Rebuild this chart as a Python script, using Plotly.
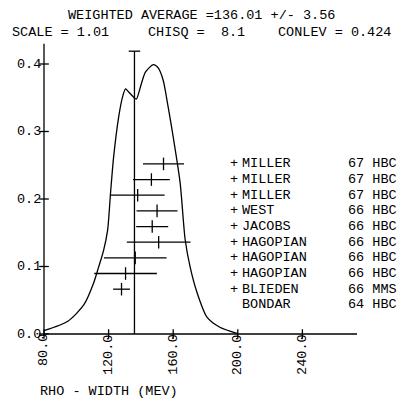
import plotly.graph_objects as go

# ---- data ----
authors = ["MILLER", "MILLER", "MILLER", "WEST", "JACOBS",
           "HAGOPIAN", "HAGOPIAN", "HAGOPIAN", "BLIEDEN", "BONDAR"]
years = ["67", "67", "67", "66", "66", "66", "66", "66", "66", "64"]
methods = ["HBC", "HBC", "HBC", "HBC", "HBC", "HBC", "HBC", "HBC", "MMS", "HBC"]
widths = [154.0, 146.5, 138.0, 150.0, 147.0, 151.0, 136.5, 130.5, 128.0]
errors = [12.7, 11.4, 16.7, 12.7, 9.9, 19.7, 19.4, 19.4, 5.2]

curve_x = [80.0, 94.8, 104.6, 110.8, 113.8, 116.9, 119.4, 121.2, 123.1, 126.2,
           128.6, 130.5, 132.3, 135.4, 137.2, 139.7, 142.8, 147.7, 150.8, 153.8,
           156.9, 160.0, 164.3, 167.4, 170.5, 174.8, 180.9, 188.9, 199.4]
curve_y = [0.005, 0.019, 0.043, 0.076, 0.099, 0.124, 0.154, 0.209, 0.262, 0.321,
           0.351, 0.363, 0.359, 0.351, 0.348, 0.366, 0.388, 0.399, 0.394, 0.376,
           0.336, 0.292, 0.224, 0.140, 0.099, 0.061, 0.025, 0.010, 0.001]

avg_value = 136.01
avg_error = 3.56
x_ticks = [80, 120, 160, 200, 240]
x_ticklabels = ["80.0", "120.0", "160.0", "200.0", "240.0"]
y_ticks = [0.0, 0.1, 0.2, 0.3, 0.4]
y_ticklabels = ["0.0", "0.1", "0.2", "0.3", "0.4"]

title1 = "WEIGHTED AVERAGE =136.01 +/- 3.56"
title2 = ["SCALE = 1.01", "CHISQ =  8.1", "CONLEV = 0.424"]
x_title = "RHO - WIDTH (MEV)"

# ---- layout helpers ----
FONT = dict(family="Liberation Mono, DejaVu Sans Mono, monospace", size=13.5, color="black")
LW = 1.3
row_top = 0.252
row_step = 0.0232
row_y = [row_top - i * row_step for i in range(len(authors))]

W, H = 400, 401
X0PX, XSCALE = 44, 1.615      # pixel of x=80, pixels per MeV
Y0PX, YSCALE = 334, 675       # pixel of y=0, pixels per unit


def xv(px):
    return 80 + (px - X0PX) / XSCALE


fig = go.Figure()

# ideogram curve
fig.add_trace(go.Scatter(x=curve_x, y=curve_y, mode="lines",
                         line=dict(color="black", width=LW, shape="spline", smoothing=0.7),
                         hoverinfo="skip"))

# measurements with error bars
n = len(widths)
fig.add_trace(go.Scatter(x=widths, y=row_y[:n], mode="markers",
                         marker=dict(symbol="line-ns", size=9, line=dict(color="black", width=LW)),
                         error_x=dict(type="data", array=errors, color="black", thickness=LW, width=0),
                         hoverinfo="skip"))

shapes = []
# axes
shapes.append(dict(type="line", xref="x", yref="y", x0=80, x1=80, y0=0, y1=0.43,
                   line=dict(color="black", width=LW)))
shapes.append(dict(type="line", xref="x", yref="y", x0=80, x1=xv(357), y0=0, y1=0,
                   line=dict(color="black", width=LW)))
for yt in y_ticks:
    shapes.append(dict(type="line", xref="x", yref="y", x0=77, x1=83, y0=yt, y1=yt,
                       line=dict(color="black", width=LW)))
for xt in x_ticks:
    shapes.append(dict(type="line", xref="x", yref="y", x0=xt, x1=xt, y0=-0.007, y1=0.007,
                       line=dict(color="black", width=LW)))
# weighted average line with cap
shapes.append(dict(type="line", xref="x", yref="y", x0=avg_value, x1=avg_value, y0=0, y1=0.419,
                   line=dict(color="black", width=LW)))
shapes.append(dict(type="line", xref="x", yref="y", x0=avg_value - avg_error, x1=avg_value + avg_error,
                   y0=0.419, y1=0.419, line=dict(color="black", width=LW)))

ann = []
for yt, lab in zip(y_ticks, y_ticklabels):
    ann.append(dict(x=79.5, y=yt, xref="x", yref="y", text=lab, showarrow=False,
                    xanchor="right", yanchor="middle", font=FONT))
for xt, lab in zip(x_ticks, x_ticklabels):
    ann.append(dict(x=xt, y=0.003, xref="x", yref="y", text=lab, showarrow=False, textangle=-90,
                    xanchor="center", yanchor="top", font=FONT))

# legend rows
for i, (a, yr, m) in enumerate(zip(authors, years, methods)):
    if i < n:
        ann.append(dict(x=xv(234), y=row_y[i], xref="x", yref="y", text="+", showarrow=False,
                        xanchor="center", yanchor="middle", font=FONT))
    ann.append(dict(x=xv(240), y=row_y[i], xref="x", yref="y", text=a, showarrow=False,
                    xanchor="left", yanchor="middle", font=FONT))
    ann.append(dict(x=xv(346), y=row_y[i], xref="x", yref="y", text=yr + " " + m, showarrow=False,
                    xanchor="left", yanchor="middle", font=FONT))

# titles (pixel positions)
ann.append(dict(x=66, y=15, xref="paper", yref="paper", text=title1, showarrow=False,
                xanchor="left", yanchor="middle", font=FONT))
for xp, t in zip([10, 146, 276], title2):
    ann.append(dict(x=xp, y=32, xref="paper", yref="paper", text=t, showarrow=False,
                    xanchor="left", yanchor="middle", font=FONT))
ann.append(dict(x=38, y=391, xref="paper", yref="paper", text=x_title, showarrow=False,
                xanchor="left", yanchor="middle", font=FONT))

for a_ in ann:
    if a_["xref"] == "paper":
        a_["x"] = a_["x"] / W
        a_["y"] = 1 - a_["y"] / H

x_lo = xv(0)
x_hi = xv(W)
y_hi = Y0PX / YSCALE
y_lo = -(H - Y0PX) / YSCALE

fig.update_layout(
    width=W, height=H, margin=dict(l=0, r=0, t=0, b=0),
    paper_bgcolor="white", plot_bgcolor="white", showlegend=False,
    xaxis=dict(range=[x_lo, x_hi], visible=False, fixedrange=True),
    yaxis=dict(range=[y_lo, y_hi], visible=False, fixedrange=True),
    shapes=shapes, annotations=ann,
)
fig.write_html("out.html", config={"displayModeBar": False},
               post_script="document.body.style.margin='0';document.body.style.overflow='hidden';")
